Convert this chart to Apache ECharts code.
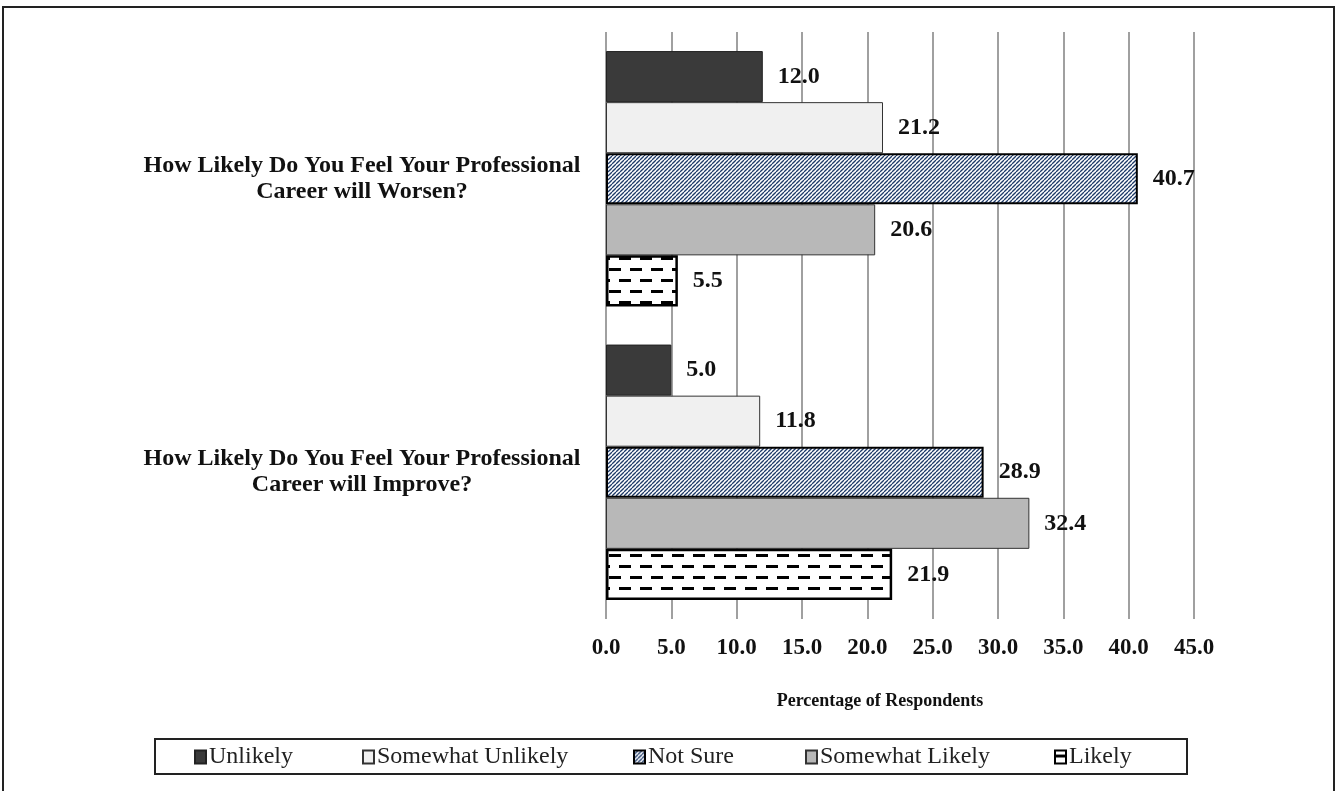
<!DOCTYPE html>
<html>
<head>
<meta charset="utf-8">
<script src="https://cdn.jsdelivr.net/npm/echarts@6/dist/echarts.min.js"></script>
<style>
  html, body { margin: 0; padding: 0; background: #fff; }
  #chart { width: 1338px; height: 791px; }
</style>
</head>
<body>
<div id="chart"></div>
<script>
const categories = [
  "How Likely Do You Feel Your Professional\nCareer will Worsen?",
  "How Likely Do You Feel Your Professional\nCareer will Improve?",
];
const seriesNames = ["Unlikely", "Somewhat Unlikely", "Not Sure", "Somewhat Likely", "Likely"];
const unlikely = [12.0, 5.0];
const somewhatUnlikely = [21.2, 11.8];
const notSure = [40.7, 28.9];
const somewhatLikely = [20.6, 32.4];
const likely = [5.5, 21.9];
const legendLeft = [194, 362, 633, 805, 1054];

const FONT = "'Liberation Serif', 'DejaVu Serif', serif";

// diagonal navy stripes
function stripePattern() {
  const c = document.createElement("canvas");
  c.width = 4; c.height = 4;
  const ctx = c.getContext("2d");
  ctx.fillStyle = "#fff";
  ctx.fillRect(0, 0, 4, 4);
  ctx.strokeStyle = "#1e3a68";
  ctx.lineWidth = 1.3;
  for (let k = -4; k <= 8; k += 4) {
    ctx.beginPath();
    ctx.moveTo(k, 4);
    ctx.lineTo(k + 4, 0);
    ctx.stroke();
  }
  return c;
}

// staggered horizontal dashes
function dashPattern() {
  const c = document.createElement("canvas");
  c.width = 21; c.height = 22;
  const ctx = c.getContext("2d");
  ctx.fillStyle = "#fff";
  ctx.fillRect(0, 0, 21, 22);
  ctx.fillStyle = "#000";
  ctx.fillRect(0, 4, 12, 3);
  ctx.fillRect(10, 15, 11, 3);
  ctx.fillRect(0, 15, 1, 3);
  return c;
}

const styles = [
  { color: "#3a3a3a", borderColor: "#222", borderWidth: 1 },
  { color: "#f0f0f0", borderColor: "#333", borderWidth: 1 },
  { color: { image: stripePattern(), repeat: "repeat" }, borderColor: "#000", borderWidth: 2 },
  { color: "#b8b8b8", borderColor: "#333", borderWidth: 1 },
  { color: { image: dashPattern(), repeat: "repeat" }, borderColor: "#000", borderWidth: 2.5 },
];
const values = [unlikely, somewhatUnlikely, notSure, somewhatLikely, likely];

const chart = echarts.init(document.getElementById("chart"));

chart.setOption({
  animation: false,
  textStyle: { fontFamily: FONT },
  grid: { left: 606, right: 144, top: 32, bottom: 172 },
  xAxis: {
    type: "value",
    min: 0,
    max: 45,
    interval: 5,
    name: "Percentage of Respondents",
    nameLocation: "middle",
    nameGap: 73,
    nameTextStyle: { fontFamily: FONT, fontWeight: "bold", fontSize: 18, color: "#111", padding: [0, 40, 0, 0] },
    axisLine: { show: false },
    axisTick: { show: false },
    axisLabel: {
      margin: 18,
      fontFamily: FONT,
      fontWeight: "bold",
      fontSize: 23,
      color: "#111",
      formatter: (v) => v.toFixed(1),
    },
    splitLine: { lineStyle: { color: "#a0a0a0", width: 2 } },
  },
  yAxis: {
    type: "category",
    inverse: true,
    data: categories,
    axisLine: { show: false },
    axisTick: { show: false },
    axisLabel: {
      margin: 244,
      align: "center",
      lineHeight: 26,
      fontFamily: FONT,
      fontWeight: "bold",
      fontSize: 24,
      color: "#111",
    },
  },
  legend: legendLeft.map((x, i) => ({
    data: [seriesNames[i]],
    left: x,
    top: 745,
    icon: "rect",
    itemWidth: 11,
    itemHeight: 13,
    itemGap: 0,
    padding: 0,
    selectedMode: false,
    textStyle: { fontFamily: FONT, fontSize: 24, color: "#222", padding: [0, 0, 0, -2] },
  })),
  graphic: [
    {
      type: "rect",
      shape: { x: 3, y: 7, width: 1331, height: 800 },
      style: { fill: "none", stroke: "#222", lineWidth: 2 },
      silent: true,
    },
    {
      type: "rect",
      shape: { x: 155, y: 739, width: 1032, height: 35 },
      style: { fill: "none", stroke: "#222", lineWidth: 2 },
      silent: true,
    },
  ],
  series: seriesNames.map((name, i) => ({
    name,
    type: "bar",
    data: values[i],
    barGap: "0%",
    barCategoryGap: "13%",
    itemStyle: styles[i],
    label: {
      show: true,
      position: "right",
      distance: 15,
      fontFamily: FONT,
      fontWeight: "bold",
      fontSize: 24,
      color: "#111",
      formatter: (p) => p.value.toFixed(1),
    },
  })),
});
</script>
</body>
</html>
